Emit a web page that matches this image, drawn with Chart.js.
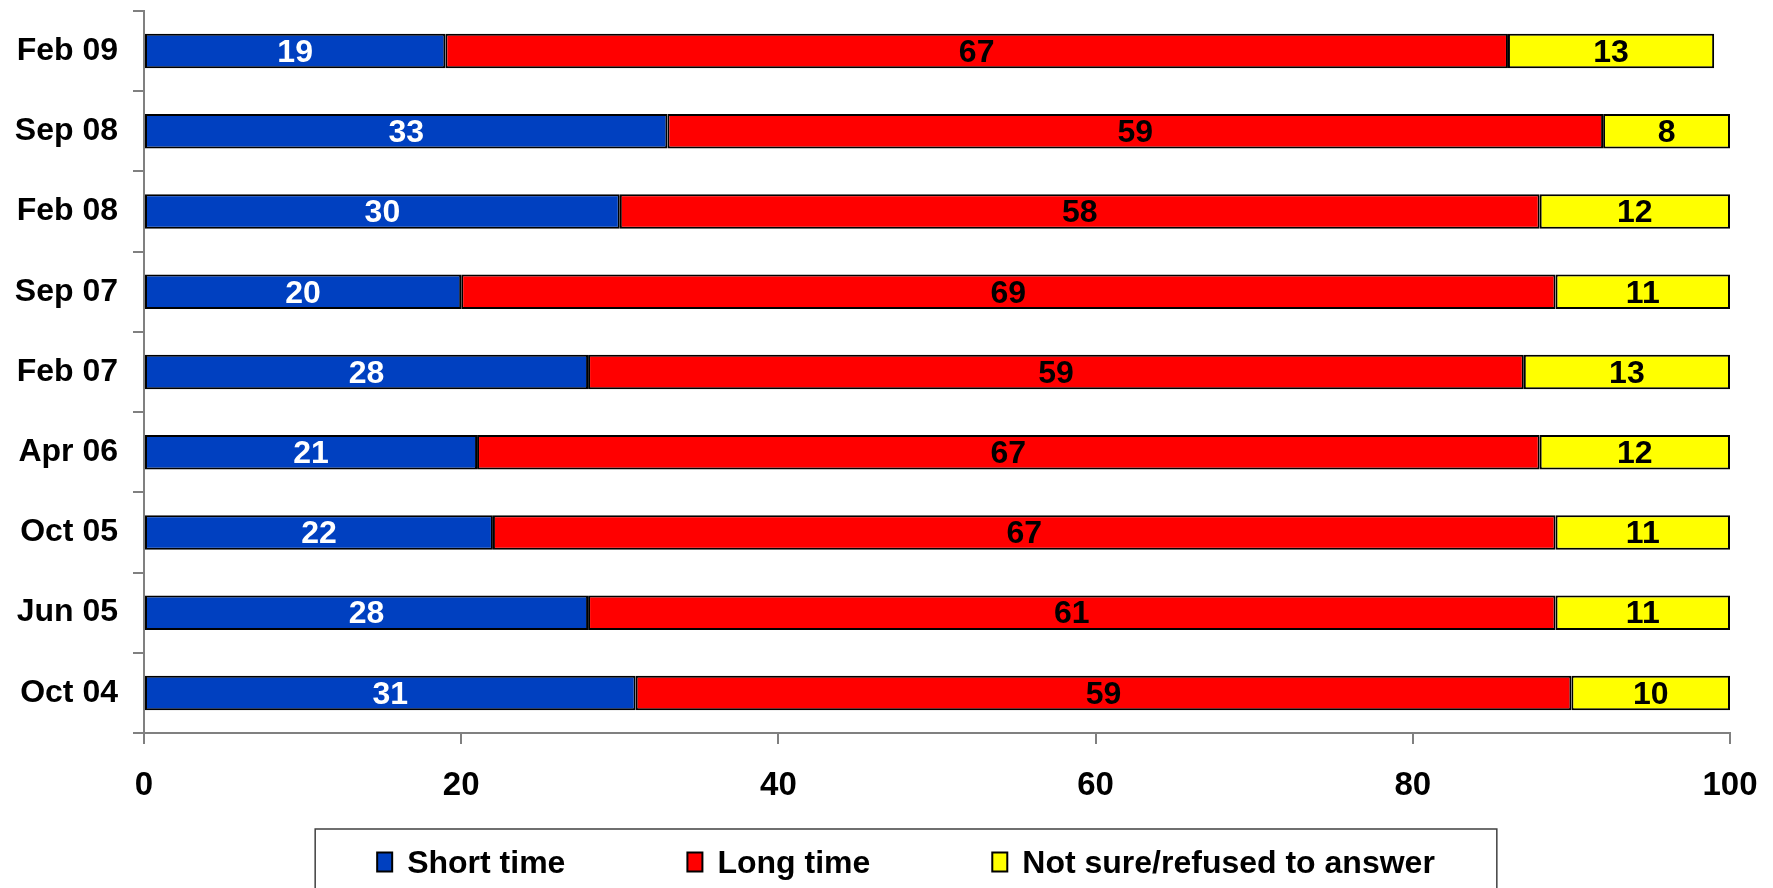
<!DOCTYPE html>
<html><head><meta charset="utf-8">
<script src="https://cdn.jsdelivr.net/npm/chart.js@4.4.0/dist/chart.umd.min.js"></script>
<style>html,body{margin:0;padding:0;background:#fff;overflow:hidden}#wrap{width:1773px;height:888px;position:relative}</style>
</head><body><div id="wrap"><canvas id="c" width="1773" height="888"></canvas></div>
<script>
const categories = ['Feb 09','Sep 08','Feb 08','Sep 07','Feb 07','Apr 06','Oct 05','Jun 05','Oct 04'];
const shortTime = [19,33,30,20,28,21,22,28,31];
const longTime = [67,59,58,69,59,67,67,61,59];
const notSure = [13,8,12,11,13,12,11,11,10];
const seriesNames = ['Short time','Long time','Not sure/refused to answer'];
const xTickValues = [0,20,40,60,80,100];

const FONT = '"Liberation Sans", Arial, sans-serif';
const colors = ['#0040C0','#FF0000','#FFFF00'];
const labelColors = ['#FFFFFF','#000000','#000000'];

const valueLabels = {
  id: 'valueLabels',
  afterDatasetsDraw(chart) {
    const ctx = chart.ctx;
    ctx.save();
    ctx.font = 'bold 32px ' + FONT;
    ctx.textAlign = 'center';
    ctx.textBaseline = 'middle';
    chart.data.datasets.forEach((ds, di) => {
      const meta = chart.getDatasetMeta(di);
      ctx.fillStyle = labelColors[di];
      meta.data.forEach((bar, i) => {
        const p = bar.getCenterPoint();
        ctx.fillText(String(ds.data[i]), p.x, p.y + 2);
      });
    });
    ctx.restore();
  }
};

const boxLegend = {
  id: 'boxLegend',
  afterDraw(chart) {
    const ctx = chart.ctx;
    const o = chart.options.plugins.boxLegend;
    ctx.save();
    ctx.font = 'bold ' + o.fontSize + 'px ' + FONT;
    const items = chart.data.datasets.map(ds => ({text: ds.label, color: ds.backgroundColor, w: ctx.measureText(ds.label).width}));
    let total = 0;
    items.forEach((it, i) => { total += o.markerW + o.markerGap + it.w + (i < items.length - 1 ? o.itemGap : 0); });
    let x = o.centerX - total / 2;
    ctx.strokeStyle = '#404040';
    ctx.lineWidth = 1.5;
    ctx.strokeRect(x - o.padX, o.top, total + 2 * o.padX, 200);
    ctx.textBaseline = 'middle';
    ctx.textAlign = 'left';
    items.forEach(it => {
      ctx.fillStyle = it.color;
      ctx.fillRect(x, o.cy - o.markerH / 2, o.markerW, o.markerH);
      ctx.strokeStyle = '#000';
      ctx.lineWidth = 2;
      ctx.strokeRect(x, o.cy - o.markerH / 2, o.markerW, o.markerH);
      ctx.fillStyle = '#000';
      ctx.fillText(it.text, x + o.markerW + o.markerGap, o.cy + 2);
      x += o.markerW + o.markerGap + it.w + o.itemGap;
    });
    ctx.restore();
  }
};

new Chart(document.getElementById('c'), {
  type: 'bar',
  data: {
    labels: categories,
    datasets: [
      {label: seriesNames[0], data: shortTime, backgroundColor: colors[0]},
      {label: seriesNames[1], data: longTime, backgroundColor: colors[1]},
      {label: seriesNames[2], data: notSure, backgroundColor: colors[2]}
    ].map(d => Object.assign(d, {borderColor: '#000', borderWidth: 2, borderSkipped: false, barPercentage: 0.43, categoryPercentage: 1}))
  },
  options: {
    indexAxis: 'y',
    responsive: false,
    animation: false,
    devicePixelRatio: 1,
    layout: {padding: {top: 11, right: 43, bottom: 82, left: 0}},
    plugins: {
      legend: {display: false},
      tooltip: {enabled: false},
      boxLegend: {centerX: 906, cy: 862, top: 829, fontSize: 32, markerW: 15, markerH: 19, markerGap: 15, itemGap: 122, padX: 62}
    },
    scales: {
      x: {
        stacked: true, min: 0, max: 100,
        afterBuildTicks(scale) { scale.ticks = xTickValues.map(v => ({value: v})); },
        afterFit(scale) { scale.height = 73; scale.paddingLeft = 0; scale.paddingRight = 0; },
        grid: {drawOnChartArea: false, drawTicks: true, tickLength: 11, color: '#808080', lineWidth: 2},
        border: {color: '#808080', width: 2},
        ticks: {color: '#000', font: {family: FONT, size: 33, weight: 'bold'}, padding: 22, maxRotation: 0}
      },
      y: {
        stacked: true,
        afterFit(scale) { scale.width = 144; scale.paddingTop = 0; scale.paddingBottom = 0; },
        grid: {offset: true, drawOnChartArea: false, drawTicks: true, tickLength: 11, color: '#808080', lineWidth: 2},
        border: {color: '#808080', width: 2},
        ticks: {color: '#000', font: {family: FONT, size: 32, weight: 'bold'}, padding: 15}
      }
    }
  },
  plugins: [valueLabels, boxLegend]
});
</script></body></html>
